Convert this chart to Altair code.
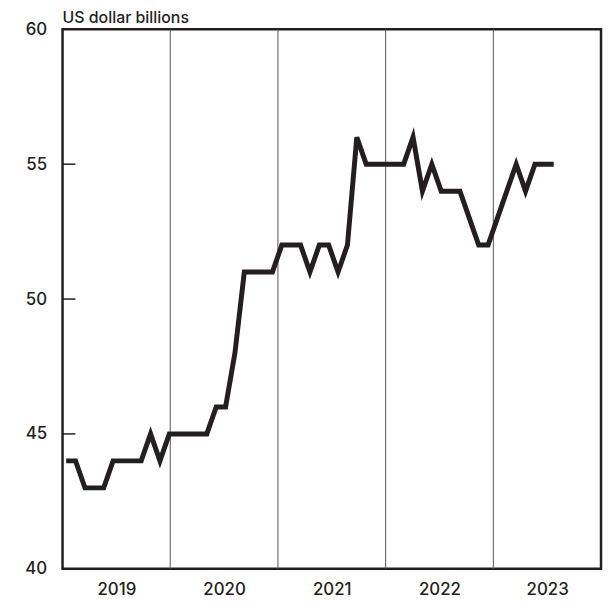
import altair as alt
import pandas as pd

# Monthly values, Jan 2019 - May 2023 (US dollar billions)
months = pd.date_range("2019-01-01", "2023-05-01", freq="MS").strftime("%Y-%m").tolist()
values = [44, 44, 43, 43, 43, 44, 44, 44, 44, 45, 44, 45,
          45, 45, 45, 45, 46, 46, 48, 51, 51, 51, 51, 52,
          52, 52, 51, 52, 52, 51, 52, 56, 55, 55, 55, 55,
          55, 56, 54, 55, 54, 54, 54, 53, 52, 52, 53, 54,
          55, 54, 55, 55, 55]
years = ["2019", "2020", "2021", "2022", "2023"]
year_bounds = ["2020", "2021", "2022", "2023"]
y_labels = [40, 45, 50, 55, 60]
y_inner_ticks = [45, 50, 55]

FONT = "Inter"
INK = "#231f20"
W, H = 543, 544

df = pd.DataFrame({"month": months, "idx": list(range(len(values))), "value": values})
df_years = pd.DataFrame({"year": years})
df_bounds = pd.DataFrame({"year": year_bounds})
df_ticks = pd.DataFrame({"v": y_inner_ticks})

yscale = alt.Scale(domain=[40, 60], nice=False, zero=False)
year_scale = alt.Scale(domain=years, paddingInner=0, paddingOuter=0)

year_axis_layer = alt.Chart(df_years).mark_text(opacity=0).encode(
    x=alt.X("year:O", scale=year_scale, title=None,
            axis=alt.Axis(labelAngle=0, ticks=False, domain=False, grid=False,
                          labelFontSize=17, labelFont=FONT, labelFontWeight=500,
                          labelColor=INK, labelPadding=13)),
    text="year:N",
)

grid = alt.Chart(df_bounds).mark_rule(color="#555555", strokeWidth=1).encode(
    x=alt.X("year:O", scale=year_scale, bandPosition=0, axis=None),
)

ticks = alt.Chart(df_ticks).mark_rule(color=INK, strokeWidth=1.5).encode(
    x=alt.value(0), x2=alt.value(13),
    y=alt.Y("v:Q", scale=yscale),
)

line = alt.Chart(df).mark_line(color=INK, strokeWidth=5, strokeJoin="miter").encode(
    x=alt.X("idx:Q", scale=alt.Scale(domain=[-0.39, 57.05], nice=False, zero=False), axis=None),
    y=alt.Y("value:Q", scale=yscale, title=None,
            axis=alt.Axis(values=y_labels, ticks=False, tickSize=0, domain=False, grid=False,
                          labelFontSize=17, labelFont=FONT, labelFontWeight=500,
                          labelColor=INK, labelPadding=16)),
    tooltip=["month:N", "value:Q"],
)

chart = alt.layer(year_axis_layer, grid, ticks, line).resolve_scale(
    x="independent"
).properties(
    width=W, height=H,
    title=alt.TitleParams("US dollar billions", anchor="start", frame="group", fontSize=16,
                          font=FONT, fontWeight=500, color=INK, offset=-6),
    autosize=alt.AutoSizeParams(type="none"),
    padding={"left": 55, "top": 19, "right": 2, "bottom": 30},
).configure_view(stroke=INK, strokeWidth=2.5)

chart.save("out.html", embed_options={"renderer": "svg", "actions": False})
